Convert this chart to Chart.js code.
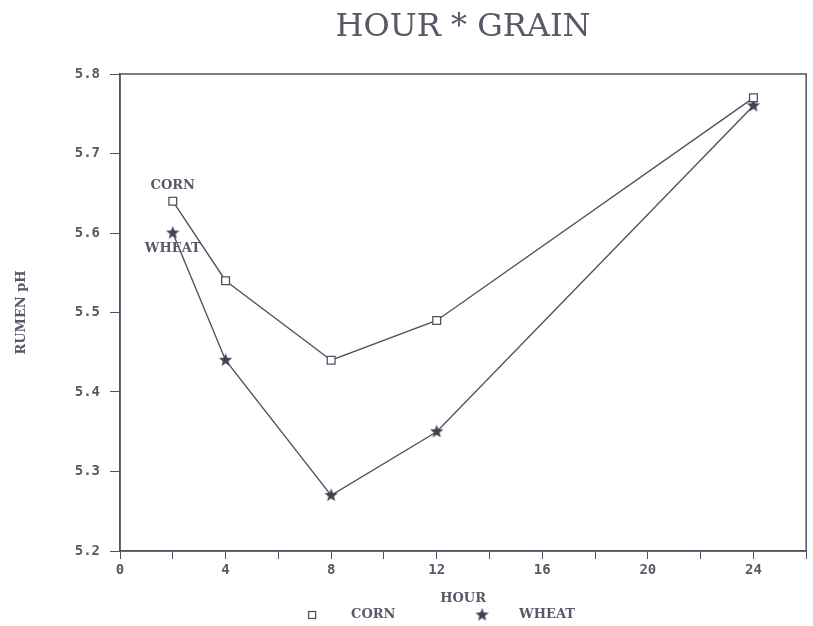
<!DOCTYPE html>
<html>
<head>
    <title>HOUR * GRAIN</title>
    <script src="https://cdn.jsdelivr.net/npm/chart.js@4.4.0/dist/chart.umd.min.js"></script>
    <style>
        html, body {
            margin: 0;
            padding: 0;
            background-color: #ffffff;
        }
        .chart-container {
            width: 813px;
            height: 626px;
        }
    </style>
</head>
<body>
    <div class="chart-container">
        <canvas id="grainChart"></canvas>
    </div>

    <script>
        // 数据
        const hours = [2, 4, 8, 12, 24];
        const cornPH = [5.64, 5.54, 5.44, 5.49, 5.77];
        const wheatPH = [5.60, 5.44, 5.27, 5.35, 5.76];
        const seriesNames = ['CORN', 'WHEAT'];
        const xTickLabels = [0, 4, 8, 12, 16, 20, 24];

        const ink = '#4f5462';
        const labelFont = 'bold 13px "DejaVu Serif"';

        // 五角星标记
        function makeStar(size) {
            const c = document.createElement('canvas');
            c.width = size;
            c.height = size;
            const g = c.getContext('2d');
            const cx = size / 2, cy = size / 2;
            const outer = size / 2 - 0.5, inner = outer * 0.42;
            g.beginPath();
            for (let i = 0; i < 10; i++) {
                const r = i % 2 === 0 ? outer : inner;
                const a = -Math.PI / 2 + i * Math.PI / 5;
                const px = cx + r * Math.cos(a);
                const py = cy + r * Math.sin(a);
                if (i === 0) g.moveTo(px, py); else g.lineTo(px, py);
            }
            g.closePath();
            g.fillStyle = '#3f4452';
            g.fill();
            return c;
        }
        const starImg = makeStar(15);

        // 外框 + 系列标注 + 图例
        const decorPlugin = {
            id: 'decor',
            afterDraw(chart) {
                const {ctx, chartArea} = chart;
                ctx.save();
                ctx.strokeStyle = ink;
                ctx.lineWidth = 1.5;
                ctx.strokeRect(chartArea.left, chartArea.top,
                    chartArea.right - chartArea.left, chartArea.bottom - chartArea.top);

                ctx.font = labelFont;
                ctx.fillStyle = '#555a66';
                ctx.textBaseline = 'middle';

                // 第一个点旁的系列名
                ctx.textAlign = 'center';
                const c0 = chart.getDatasetMeta(0).data[0];
                const w0 = chart.getDatasetMeta(1).data[0];
                ctx.fillText(seriesNames[0], c0.x, c0.y - 16);
                ctx.fillText(seriesNames[1], w0.x, w0.y + 16);

                // 底部图例
                const mid = (chartArea.left + chartArea.right) / 2;
                const ly = 615;
                ctx.lineWidth = 1.3;
                ctx.strokeRect(mid - 151 - 3.5, ly - 3.5, 7, 7);
                ctx.drawImage(starImg, mid + 19 - 7.5, ly - 7.5);
                ctx.textAlign = 'left';
                ctx.fillText(seriesNames[0], mid - 112, ly);
                ctx.fillText(seriesNames[1], mid + 56, ly);
                ctx.restore();
            }
        };

        const ctx = document.getElementById('grainChart').getContext('2d');
        new Chart(ctx, {
            type: 'scatter',
            data: {
                datasets: [{
                    label: seriesNames[0],
                    data: hours.map((h, i) => ({x: h, y: cornPH[i]})),
                    showLine: true,
                    borderColor: ink,
                    borderWidth: 1.4,
                    backgroundColor: '#ffffff',
                    pointStyle: 'rect',
                    pointRadius: 5.5,
                    pointBorderWidth: 1.3,
                    pointBorderColor: ink,
                    tension: 0
                }, {
                    label: seriesNames[1],
                    data: hours.map((h, i) => ({x: h, y: wheatPH[i]})),
                    showLine: true,
                    borderColor: ink,
                    borderWidth: 1.4,
                    pointStyle: starImg,
                    tension: 0
                }]
            },
            options: {
                responsive: true,
                maintainAspectRatio: false,
                animation: false,
                layout: {
                    padding: {left: 0, right: 1, top: 0, bottom: 0}
                },
                plugins: {
                    legend: {display: false},
                    tooltip: {enabled: false},
                    title: {
                        display: true,
                        fullSize: false,
                        text: 'HOUR * GRAIN',
                        color: '#555a66',
                        font: {family: '"DejaVu Serif"', size: 32, weight: 'normal'},
                        padding: {top: 8, bottom: 27.6}
                    }
                },
                scales: {
                    x: {
                        type: 'linear',
                        min: 0,
                        max: 26,
                        afterFit: function (scale) {
                            scale.height = 75;
                        },
                        ticks: {
                            stepSize: 2,
                            autoSkip: false,
                            maxRotation: 0,
                            padding: 3,
                            color: '#555a66',
                            font: {family: '"DejaVu Sans Mono"', size: 14, weight: 'bold'},
                            callback: function (value) {
                                return xTickLabels.includes(value) ? String(value) : '';
                            }
                        },
                        grid: {
                            drawOnChartArea: false,
                            drawTicks: true,
                            tickLength: 8,
                            color: ink
                        },
                        border: {color: ink, width: 1.5},
                        title: {
                            display: true,
                            text: 'HOUR',
                            color: '#555a66',
                            font: {family: '"DejaVu Serif"', size: 13, weight: 'bold'},
                            padding: {top: 0, bottom: 20}
                        }
                    },
                    y: {
                        min: 5.2,
                        max: 5.8,
                        afterFit: function (scale) {
                            scale.width = 120;
                        },
                        ticks: {
                            stepSize: 0.1,
                            padding: 10,
                            color: '#555a66',
                            font: {family: '"DejaVu Sans Mono"', size: 14, weight: 'bold'},
                            callback: function (value) {
                                return value.toFixed(1);
                            }
                        },
                        grid: {
                            drawOnChartArea: false,
                            drawTicks: true,
                            tickLength: 10,
                            color: ink
                        },
                        border: {color: ink, width: 1.5},
                        title: {
                            display: true,
                            text: 'RUMEN pH',
                            color: '#555a66',
                            font: {family: '"DejaVu Serif"', size: 13, weight: 'bold'},
                            padding: {top: 14, bottom: 0}
                        }
                    }
                }
            },
            plugins: [decorPlugin]
        });
    </script>
</body>
</html>
